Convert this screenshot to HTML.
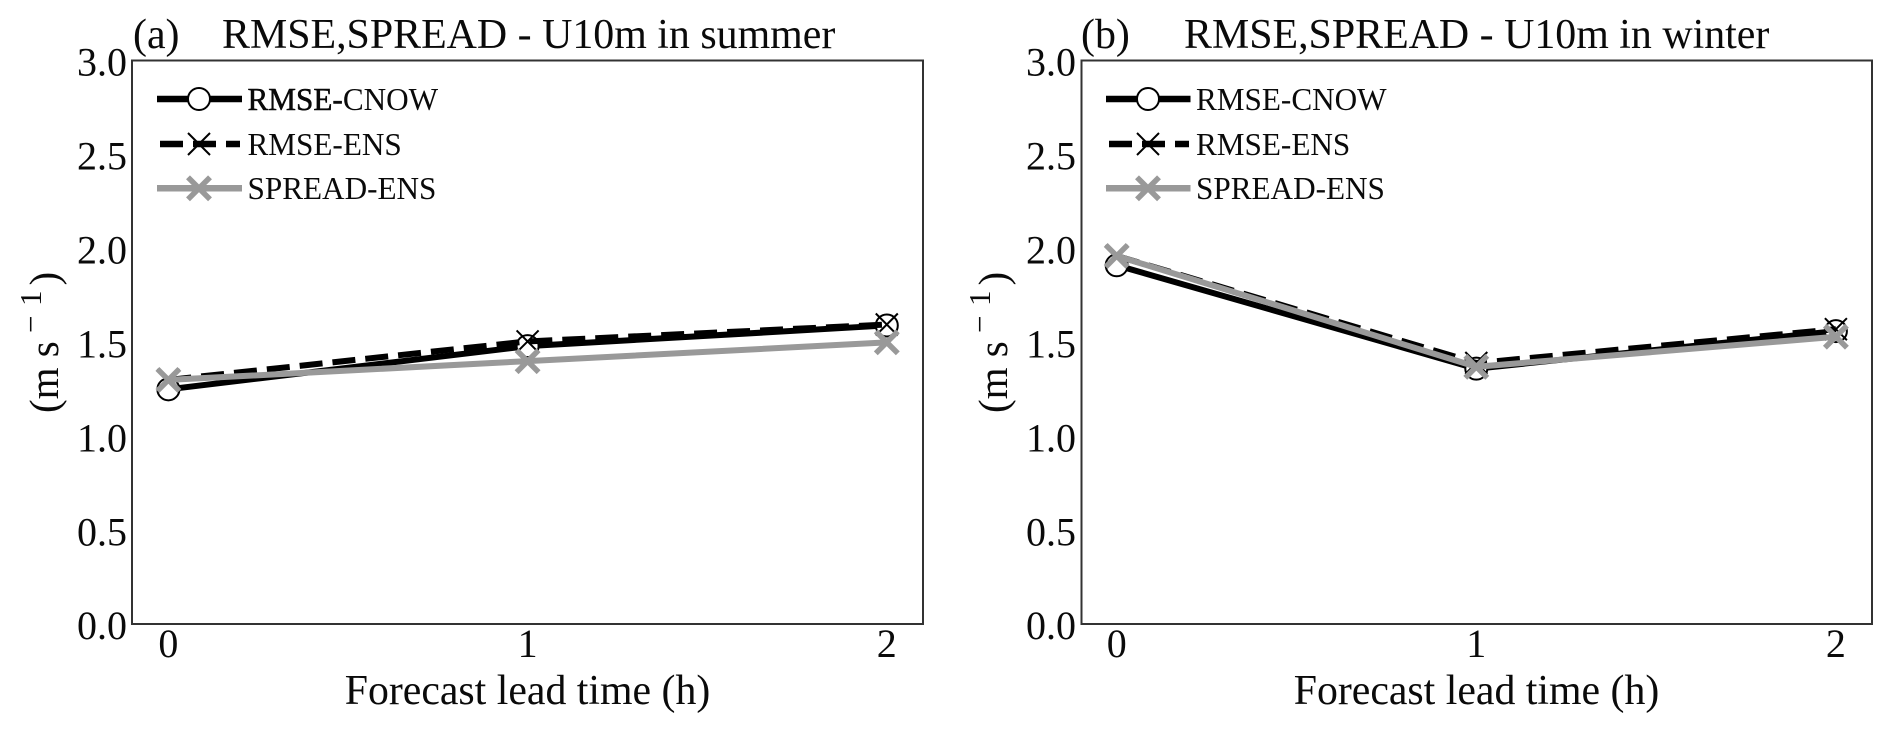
<!DOCTYPE html>
<html lang="en">
<head>
<meta charset="utf-8">
<title>RMSE and SPREAD of U10m</title>
<style>
html,body{margin:0;padding:0;background:#fff;}
svg{display:block;}
text{font-family:"Liberation Serif",serif;fill:#0a0a0a;}
</style>
</head>
<body>
<svg id="figure" xmlns="http://www.w3.org/2000/svg" width="1892" height="732" viewBox="0 0 1892 732">
  <rect width="1892" height="732" fill="#fff"/>

  <g id="panel-a">
    <rect x="132" y="60.5" width="791" height="563.5" fill="#fff" stroke="#333" stroke-width="2"/>
    <text x="133" y="48" font-size="41.9">(a)</text>
    <text x="222" y="48" font-size="41.9">RMSE,SPREAD - U10m in summer</text>
    <text x="527.5" y="704" font-size="41.8" text-anchor="middle">Forecast lead time (h)</text>
    <text transform="translate(58,413) rotate(-90)" font-size="41">(m s<tspan x="80" dy="-17" font-size="31">−</tspan><tspan x="107" font-size="31">1</tspan><tspan x="127.5" dy="17">)</tspan></text>
    <g>
      <line x1="157" x2="242" y1="99" y2="99" stroke="#000" stroke-width="6.5"/>
      <circle cx="199" cy="99" r="11" fill="#fff" stroke="#000" stroke-width="2"/>
      <text x="247.5" y="110" font-size="31.2"><tspan stroke="#000" stroke-width="0.5">RMSE-</tspan>CNOW</text>
      <line x1="160" x2="240" y1="144" y2="144" stroke="#000" stroke-width="6.5" stroke-dasharray="23 10"/>
      <path d="M188 133L210 155M210 133L188 155" stroke="#000" stroke-width="2" fill="none"/>
      <text x="247.5" y="155" font-size="31.2">RMSE-ENS</text>
      <line x1="157" x2="242" y1="188.3" y2="188.3" stroke="#999" stroke-width="6.5"/>
      <path d="M188 177.3L210 199.3M210 177.3L188 199.3" stroke="#999" stroke-width="5.5" fill="none"/>
      <text x="247.5" y="199" font-size="31.2">SPREAD-ENS</text>
    </g>
  </g>

  <g id="panel-b">
    <rect x="1081.5" y="60.5" width="790.5" height="563.5" fill="#fff" stroke="#333" stroke-width="2"/>
    <text x="1081" y="48" font-size="41.9">(b)</text>
    <text x="1184" y="48" font-size="41.9">RMSE,SPREAD - U10m in winter</text>
    <text x="1476.5" y="704" font-size="41.8" text-anchor="middle">Forecast lead time (h)</text>
    <text transform="translate(1007,413) rotate(-90)" font-size="41">(m s<tspan x="80" dy="-17" font-size="31">−</tspan><tspan x="107" font-size="31">1</tspan><tspan x="127.5" dy="17">)</tspan></text>
    <g>
      <line x1="1106" x2="1190.5" y1="99" y2="99" stroke="#000" stroke-width="6.5"/>
      <circle cx="1148" cy="99" r="11" fill="#fff" stroke="#000" stroke-width="2"/>
      <text x="1196" y="110" font-size="31.2">RMSE-CNOW</text>
      <line x1="1109" x2="1189" y1="144" y2="144" stroke="#000" stroke-width="6.5" stroke-dasharray="23 10"/>
      <path d="M1137 133L1159 155M1159 133L1137 155" stroke="#000" stroke-width="2" fill="none"/>
      <text x="1196" y="155" font-size="31.2">RMSE-ENS</text>
      <line x1="1106" x2="1190.5" y1="188.3" y2="188.3" stroke="#999" stroke-width="6.5"/>
      <path d="M1137 177.3L1159 199.3M1159 177.3L1137 199.3" stroke="#999" stroke-width="5.5" fill="none"/>
      <text x="1196" y="199" font-size="31.2">SPREAD-ENS</text>
    </g>
  </g>
</svg>
<script>
var leadTimes = [0, 1, 2];
var yTickLabels = ['0.0', '0.5', '1.0', '1.5', '2.0', '2.5', '3.0'];

var summerRmseCnow = [1.25, 1.48, 1.59];
var summerRmseEns = [1.30, 1.505, 1.595];
var summerSpreadEns = [1.30, 1.40, 1.50];

var winterRmseCnow = [1.91, 1.36, 1.56];
var winterRmseEns = [1.96, 1.39, 1.57];
var winterSpreadEns = [1.96, 1.37, 1.53];

var SVGNS = 'http://www.w3.org/2000/svg';

function makeXScale(x0, dx) {
  return function (v) { return x0 + dx * v; };
}
function yScale(v) {
  return 624.2 - 187.9 * v;
}
function polyPoints(values, xs) {
  return values.map(function (v, i) {
    return xs(leadTimes[i]) + ',' + yScale(v);
  }).join(' ');
}
function crossPath(cx, cy, r) {
  return 'M' + (cx - r) + ' ' + (cy - r) + 'L' + (cx + r) + ' ' + (cy + r) +
    'M' + (cx + r) + ' ' + (cy - r) + 'L' + (cx - r) + ' ' + (cy + r);
}

function drawAxes(group, xs, tickRight) {
  yTickLabels.forEach(function (label) {
    var t = document.createElementNS(SVGNS, 'text');
    
    
    t.setAttribute('x', tickRight);
    t.setAttribute('y', yScale(parseFloat(label)) + 15);
    t.setAttribute('font-size', '40');
    t.setAttribute('text-anchor', 'end');
    t.textContent = label;
    group.appendChild(t);
  });
  leadTimes.forEach(function (h) {
    var t = document.createElementNS(SVGNS, 'text');
    
    
    t.setAttribute('x', xs(h));
    t.setAttribute('y', 657);
    t.setAttribute('font-size', '40');
    t.setAttribute('text-anchor', 'middle');
    t.textContent = String(h);
    group.appendChild(t);
  });
}

function drawLine(group, values, xs, color, dash) {
  var line = document.createElementNS(SVGNS, 'polyline');
  
  
  line.setAttribute('points', polyPoints(values, xs));
  line.setAttribute('fill', 'none');
  line.setAttribute('stroke', color);
  line.setAttribute('stroke-width', '6');
  if (dash) {
    line.setAttribute('stroke-dasharray', dash);
  }
  group.appendChild(line);
}

function drawCircles(group, values, xs) {
  values.forEach(function (v, i) {
    var c = document.createElementNS(SVGNS, 'circle');
    
    
    c.setAttribute('cx', xs(leadTimes[i]));
    c.setAttribute('cy', yScale(v));
    c.setAttribute('r', '11');
    c.setAttribute('fill', '#fff');
    c.setAttribute('stroke', '#000');
    c.setAttribute('stroke-width', '2');
    group.appendChild(c);
  });
}

function drawCrosses(group, values, xs, color, width) {
  values.forEach(function (v, i) {
    var p = document.createElementNS(SVGNS, 'path');
    
    
    p.setAttribute('d', crossPath(xs(leadTimes[i]), yScale(v), 11));
    p.setAttribute('fill', 'none');
    p.setAttribute('stroke', color);
    p.setAttribute('stroke-width', width);
    group.appendChild(p);
  });
}

function drawPanel(id, xs, tickRight, cnow, ens, spread) {
  var group = document.getElementById(id);
  drawAxes(group, xs, tickRight);
  drawLine(group, cnow, xs, '#000', null);
  drawCircles(group, cnow, xs);
  drawLine(group, ens, xs, '#000', '23 10');
  drawCrosses(group, ens, xs, '#000', '2');
  drawLine(group, spread, xs, '#999', null);
  drawCrosses(group, spread, xs, '#999', '5.5');
}

drawPanel('panel-a', makeXScale(168.4, 359.2), 127, summerRmseCnow, summerRmseEns, summerSpreadEns);
drawPanel('panel-b', makeXScale(1116.7, 359.6), 1076, winterRmseCnow, winterRmseEns, winterSpreadEns);
</script>
</body>
</html>
